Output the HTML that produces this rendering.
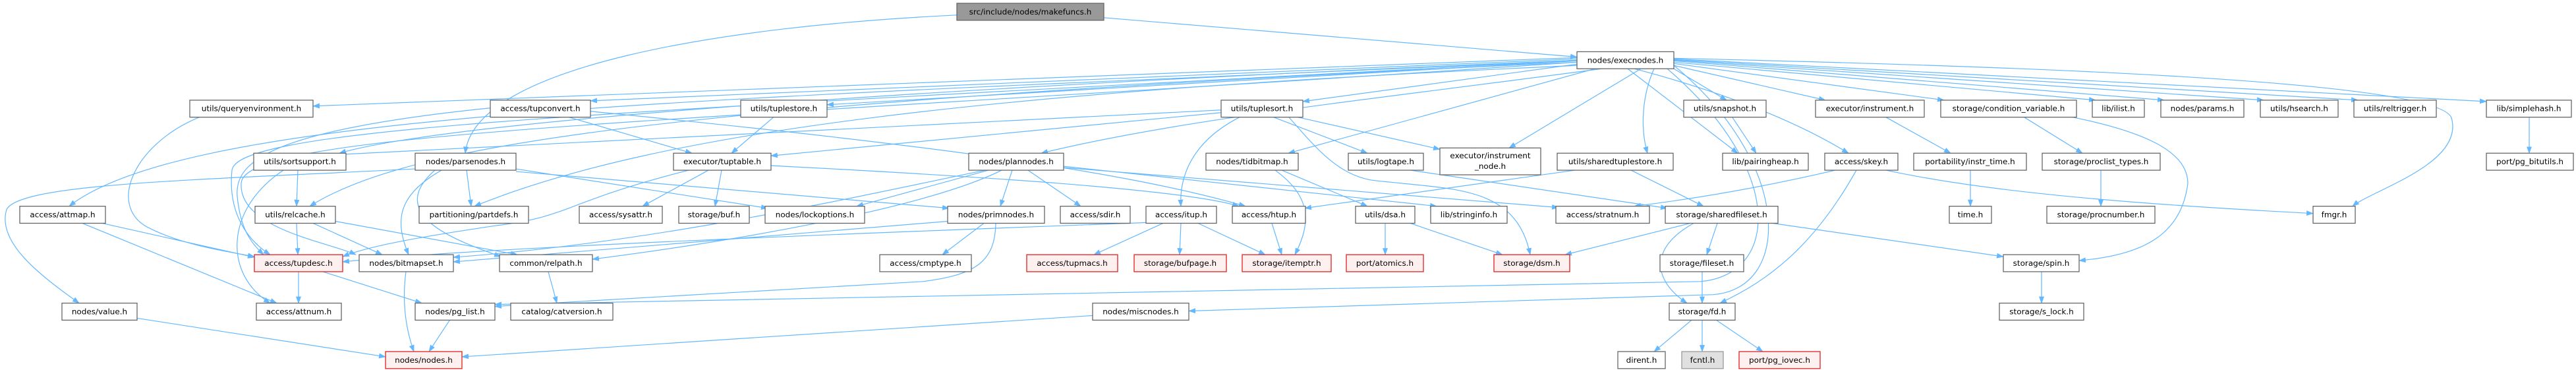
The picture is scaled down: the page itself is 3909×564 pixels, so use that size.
<!DOCTYPE html>
<html><head><meta charset="utf-8"><style>
html,body{margin:0;padding:0;background:#fff;}
svg{display:block;}
text{font-family:"DejaVu Sans","Liberation Sans",sans-serif;font-size:12px;fill:#000;}
.e{fill:none;stroke:#63b8ff;stroke-width:1.2;marker-end:url(#a);}
.n{fill:#fff;stroke:#666;stroke-width:1.3;}
.r{fill:#fff0f0;stroke:#e02020;stroke-width:1.3;}
</style></head><body>
<svg width="3909" height="564" viewBox="0 0 3909 564" xmlns="http://www.w3.org/2000/svg">
<defs><marker id="a" markerUnits="userSpaceOnUse" markerWidth="11" markerHeight="8" refX="10" refY="4" orient="auto"><path d="M0,0 L11,4 L0,8 z" fill="#63b8ff"/></marker></defs>
<g transform="scale(1,0.9926)">
<g>
<path class="e" d="M1675,27 L2393,87"/>
<path class="e" d="M1452,23 C1100,40 720,100 706,234"/>
<path class="e" d="M2393,88 C1500,120 900,150 475,162"/>
<path class="e" d="M2393,90 L896,154"/>
<path class="e" d="M2393,93 L1255,160"/>
<path class="e" d="M2393,98 L1977,155"/>
<path class="e" d="M2393,92 C1500,130 700,180 515,234"/>
<path class="e" d="M2393,95 C1000,160 620,220 470,315"/>
<path class="e" d="M2393,92 C1200,150 300,160 105,315"/>
<path class="e" d="M2393,92 C1000,170 360,190 352,260 C345,330 380,370 410,389"/>
<path class="e" d="M2393,95 C1000,190 370,200 366,280 C362,350 500,370 540,389"/>
<path class="e" d="M2393,100 C1500,140 1000,200 720,315"/>
<path class="e" d="M1853,172 L1170,238"/>
<path class="e" d="M2430,105 C2100,150 1800,180 1580,234"/>
<path class="e" d="M2490,105 L2290,226"/>
<path class="e" d="M2510,105 C2490,150 2490,200 2500,234"/>
<path class="e" d="M2420,105 L1955,234"/>
<path class="e" d="M2540,100 C2720,250 2720,440 2600,450 L1804,475"/>
<path class="e" d="M2530,105 C2710,260 2700,420 2580,430 L751,465"/>
<path class="e" d="M2540,105 L2620,153"/>
<path class="e" d="M2540,100 L2770,153"/>
<path class="e" d="M2540,97 L2950,153"/>
<path class="e" d="M2540,95 L3180,153"/>
<path class="e" d="M2540,93 L3284,153"/>
<path class="e" d="M2540,92 L3435,153"/>
<path class="e" d="M2540,91 L3578,153"/>
<path class="e" d="M2540,90 L3773,155"/>
<path class="e" d="M2540,89 C3000,100 3700,120 3720,180 C3740,250 3600,290 3570,315"/>
<path class="e" d="M2480,105 C2650,150 2750,200 2805,234"/>
<path class="e" d="M2470,105 L2637,234"/>
<path class="e" d="M2817,260 C2750,380 2680,430 2610,463"/>
<path class="e" d="M860,178 L1050,234"/>
<path class="e" d="M896,170 C1400,220 1700,260 1890,315"/>
<path class="e" d="M744,165 C400,200 356,250 360,300 C365,350 380,370 400,389"/>
<path class="e" d="M1175,178 L1110,234"/>
<path class="e" d="M1075,260 L975,315"/>
<path class="e" d="M1095,260 L1085,315"/>
<path class="e" d="M1170,253 C1500,270 1800,290 1880,315"/>
<path class="e" d="M1045,260 C850,310 870,330 750,345 C650,360 560,375 520,392"/>
<path class="e" d="M305,178 C200,220 160,320 230,350 C280,375 350,385 386,392"/>
<path class="e" d="M452,260 L450,315"/>
<path class="e" d="M430,260 C340,320 340,420 410,463"/>
<path class="e" d="M450,341 L452,389"/>
<path class="e" d="M475,341 L580,389"/>
<path class="e" d="M509,338 L785,389"/>
<path class="e" d="M155,341 L386,393"/>
<path class="e" d="M125,341 L420,463"/>
<path class="e" d="M453,415 L453,463"/>
<path class="e" d="M490,415 L640,463"/>
<path class="e" d="M708,260 L715,315"/>
<path class="e" d="M783,258 L1165,318"/>
<path class="e" d="M630,258 C300,275 30,280 10,320 C-5,370 60,420 120,463"/>
<path class="e" d="M670,260 C600,300 600,340 620,389"/>
<path class="e" d="M783,262 L1440,318"/>
<path class="e" d="M660,260 C580,330 700,370 760,392"/>
<path class="e" d="M208,486 L585,545"/>
<path class="e" d="M616,415 C610,460 615,500 628,537"/>
<path class="e" d="M683,488 L651,537"/>
<path class="e" d="M832,415 L845,463"/>
<path class="e" d="M1536,260 L1518,315"/>
<path class="e" d="M1560,260 L1640,315"/>
<path class="e" d="M1495,260 C1300,300 1000,370 688,393"/>
<path class="e" d="M1520,260 C1400,320 1100,370 899,396"/>
<path class="e" d="M1500,260 L1300,315"/>
<path class="e" d="M1614,256 L2365,317"/>
<path class="e" d="M1614,254 L2180,315"/>
<path class="e" d="M1493,341 L1430,389"/>
<path class="e" d="M1511,341 C1510,400 1480,420 1400,430 L751,468"/>
<path class="e" d="M1438,338 L688,400"/>
<path class="e" d="M1765,341 L1660,389"/>
<path class="e" d="M1792,341 L1790,389"/>
<path class="e" d="M1818,341 L1920,389"/>
<path class="e" d="M1739,340 C1200,360 700,380 520,400"/>
<path class="e" d="M1930,341 L1945,389"/>
<path class="e" d="M1883,178 C1800,220 1790,280 1792,315"/>
<path class="e" d="M1930,178 L2075,234"/>
<path class="e" d="M1965,178 L2185,228"/>
<path class="e" d="M1955,178 C2000,230 2030,265 2080,275 C2200,290 2300,280 2322,389"/>
<path class="e" d="M1853,168 L515,236"/>
<path class="e" d="M1935,260 C1990,300 1990,340 1965,389"/>
<path class="e" d="M1945,260 L2075,315"/>
<path class="e" d="M2140,260 L2530,318"/>
<path class="e" d="M2390,260 L1980,318"/>
<path class="e" d="M2475,260 L2585,315"/>
<path class="e" d="M2862,260 C3000,290 3200,310 3510,326"/>
<path class="e" d="M2785,260 C2700,280 2600,300 2480,315"/>
<path class="e" d="M2102,341 L2102,389"/>
<path class="e" d="M2140,341 L2280,389"/>
<path class="e" d="M2565,341 L2375,389"/>
<path class="e" d="M2606,341 L2590,389"/>
<path class="e" d="M2570,341 C2500,380 2510,430 2560,463"/>
<path class="e" d="M2690,341 L3040,392"/>
<path class="e" d="M2583,415 L2583,463"/>
<path class="e" d="M2568,488 L2510,537"/>
<path class="e" d="M2583,488 L2583,537"/>
<path class="e" d="M2603,488 L2675,537"/>
<path class="e" d="M2628,178 L2665,234"/>
<path class="e" d="M2860,178 L2960,234"/>
<path class="e" d="M3070,178 L3160,234"/>
<path class="e" d="M3140,178 C3250,200 3320,230 3320,280 C3310,360 3250,390 3155,398"/>
<path class="e" d="M2990,260 L2990,315"/>
<path class="e" d="M3188,260 L3188,315"/>
<path class="e" d="M3098,415 L3098,463"/>
<path class="e" d="M3838,178 L3838,234"/>
<path class="e" d="M1658,482 L701,545"/>
</g>
<g text-anchor="middle">
<rect x="1452" y="5" width="223" height="26" fill="#999" stroke="#666" stroke-width="1.3"/><text x="1563.5" y="22">src/include/nodes/makefuncs.h</text>
<rect class="n" x="2393" y="79" width="147" height="26"/><text x="2466.5" y="96">nodes/execnodes.h</text>
<rect class="n" x="288" y="153" width="187" height="26"/><text x="381.5" y="170">utils/queryenvironment.h</text>
<rect class="n" x="744" y="153" width="152" height="26"/><text x="820" y="170">access/tupconvert.h</text>
<rect class="n" x="1124" y="153" width="131" height="26"/><text x="1189.5" y="170">utils/tuplestore.h</text>
<rect class="n" x="1853" y="153" width="124" height="26"/><text x="1915" y="170">utils/tuplesort.h</text>
<rect class="n" x="2555" y="153" width="125" height="26"/><text x="2617.5" y="170">utils/snapshot.h</text>
<rect class="n" x="2755" y="153" width="165" height="26"/><text x="2837.5" y="170">executor/instrument.h</text>
<rect class="n" x="2945" y="153" width="206" height="26"/><text x="3048" y="170">storage/condition_variable.h</text>
<rect class="n" x="3175" y="153" width="79" height="26"/><text x="3214.5" y="170">lib/ilist.h</text>
<rect class="n" x="3279" y="153" width="126" height="26"/><text x="3342" y="170">nodes/params.h</text>
<rect class="n" x="3430" y="153" width="118" height="26"/><text x="3489" y="170">utils/hsearch.h</text>
<rect class="n" x="3572" y="153" width="125" height="26"/><text x="3634.5" y="170">utils/reltrigger.h</text>
<rect class="n" x="3773" y="153" width="129" height="26"/><text x="3837.5" y="170">lib/simplehash.h</text>
<rect class="n" x="385" y="234" width="140" height="26"/><text x="455" y="251">utils/sortsupport.h</text>
<rect class="n" x="630" y="234" width="153" height="26"/><text x="706.5" y="251">nodes/parsenodes.h</text>
<rect class="n" x="1022" y="234" width="148" height="26"/><text x="1096" y="251">executor/tuptable.h</text>
<rect class="n" x="1470" y="234" width="144" height="26"/><text x="1542" y="251">nodes/plannodes.h</text>
<rect class="n" x="1830" y="234" width="140" height="26"/><text x="1900" y="251">nodes/tidbitmap.h</text>
<rect class="n" x="2046" y="234" width="114" height="26"/><text x="2103" y="251">utils/logtape.h</text>
<rect class="n" x="2185" y="226" width="153" height="41"/><text x="2261.5" y="242">executor/instrument</text><text x="2261.5" y="258">_node.h</text>
<rect class="n" x="2363" y="234" width="176" height="26"/><text x="2451" y="251">utils/sharedtuplestore.h</text>
<rect class="n" x="2614" y="234" width="130" height="26"/><text x="2679" y="251">lib/pairingheap.h</text>
<rect class="n" x="2769" y="234" width="111" height="26"/><text x="2824.5" y="251">access/skey.h</text>
<rect class="n" x="2904" y="234" width="171" height="26"/><text x="2989.5" y="251">portability/instr_time.h</text>
<rect class="n" x="3099" y="234" width="179" height="26"/><text x="3188.5" y="251">storage/proclist_types.h</text>
<rect class="n" x="3773" y="234" width="132" height="26"/><text x="3839" y="251">port/pg_bitutils.h</text>
<rect class="n" x="30" y="315" width="130" height="26"/><text x="95" y="332">access/attmap.h</text>
<rect class="n" x="387" y="315" width="122" height="26"/><text x="448" y="332">utils/relcache.h</text>
<rect class="n" x="636" y="315" width="166" height="26"/><text x="719" y="332">partitioning/partdefs.h</text>
<rect class="n" x="879" y="315" width="126" height="26"/><text x="942" y="332">access/sysattr.h</text>
<rect class="n" x="1030" y="315" width="107" height="26"/><text x="1083.5" y="332">storage/buf.h</text>
<rect class="n" x="1161" y="315" width="151" height="26"/><text x="1236.5" y="332">nodes/lockoptions.h</text>
<rect class="n" x="1438" y="315" width="147" height="26"/><text x="1511.5" y="332">nodes/primnodes.h</text>
<rect class="n" x="1609" y="315" width="106" height="26"/><text x="1662" y="332">access/sdir.h</text>
<rect class="n" x="1739" y="315" width="107" height="26"/><text x="1792.5" y="332">access/itup.h</text>
<rect class="n" x="1870" y="315" width="111" height="26"/><text x="1925.5" y="332">access/htup.h</text>
<rect class="n" x="2057" y="315" width="90" height="26"/><text x="2102" y="332">utils/dsa.h</text>
<rect class="n" x="2171" y="315" width="116" height="26"/><text x="2229" y="332">lib/stringinfo.h</text>
<rect class="n" x="2361" y="315" width="142" height="26"/><text x="2432" y="332">access/stratnum.h</text>
<rect class="n" x="2527" y="315" width="171" height="26"/><text x="2612.5" y="332">storage/sharedfileset.h</text>
<rect class="n" x="2958" y="315" width="64" height="26"/><text x="2990" y="332">time.h</text>
<rect class="n" x="3106" y="315" width="164" height="26"/><text x="3188" y="332">storage/procnumber.h</text>
<rect class="n" x="3510" y="315" width="64" height="26"/><text x="3542" y="332">fmgr.h</text>
<rect class="r" x="386" y="389" width="134" height="26"/><text x="453" y="406">access/tupdesc.h</text>
<rect class="n" x="545" y="389" width="143" height="26"/><text x="616.5" y="406">nodes/bitmapset.h</text>
<rect class="n" x="758" y="389" width="141" height="26"/><text x="828.5" y="406">common/relpath.h</text>
<rect class="n" x="1335" y="389" width="139" height="26"/><text x="1404.5" y="406">access/cmptype.h</text>
<rect class="r" x="1558" y="389" width="138" height="26"/><text x="1627" y="406">access/tupmacs.h</text>
<rect class="r" x="1721" y="389" width="140" height="26"/><text x="1791" y="406">storage/bufpage.h</text>
<rect class="r" x="1885" y="389" width="135" height="26"/><text x="1952.5" y="406">storage/itemptr.h</text>
<rect class="r" x="2043" y="389" width="117" height="26"/><text x="2101.5" y="406">port/atomics.h</text>
<rect class="r" x="2267" y="389" width="115" height="26"/><text x="2324.5" y="406">storage/dsm.h</text>
<rect class="n" x="2519" y="389" width="127" height="26"/><text x="2582.5" y="406">storage/fileset.h</text>
<rect class="n" x="3040" y="389" width="115" height="26"/><text x="3097.5" y="406">storage/spin.h</text>
<rect class="n" x="94" y="463" width="114" height="26"/><text x="151" y="480">nodes/value.h</text>
<rect class="n" x="389" y="463" width="129" height="26"/><text x="453.5" y="480">access/attnum.h</text>
<rect class="n" x="630" y="463" width="121" height="26"/><text x="690.5" y="480">nodes/pg_list.h</text>
<rect class="n" x="775" y="463" width="155" height="26"/><text x="852.5" y="480">catalog/catversion.h</text>
<rect class="n" x="1658" y="463" width="146" height="26"/><text x="1731" y="480">nodes/miscnodes.h</text>
<rect class="n" x="2533" y="463" width="100" height="26"/><text x="2583" y="480">storage/fd.h</text>
<rect class="n" x="3034" y="463" width="128" height="26"/><text x="3098" y="480">storage/s_lock.h</text>
<rect class="r" x="585" y="537" width="116" height="26"/><text x="643" y="554">nodes/nodes.h</text>
<rect class="n" x="2455" y="537" width="72" height="26"/><text x="2491" y="554">dirent.h</text>
<rect x="2552" y="537" width="63" height="26" fill="#e0e0e0" stroke="#999" stroke-width="1.3"/><text x="2583.5" y="554">fcntl.h</text>
<rect class="r" x="2639" y="537" width="123" height="26"/><text x="2700.5" y="554">port/pg_iovec.h</text>
</g>
</g>
</svg>
</body></html>
